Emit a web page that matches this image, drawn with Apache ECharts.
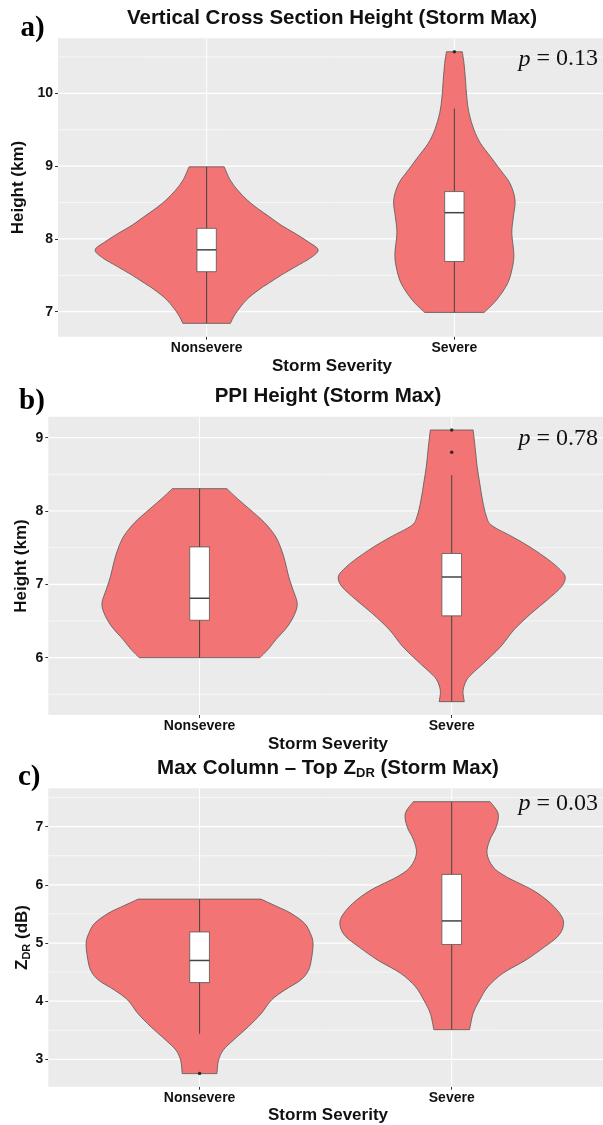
<!DOCTYPE html>
<html>
<head>
<meta charset="utf-8">
<title>Storm Max violin plots</title>
<script src="https://cdn.jsdelivr.net/npm/echarts@6/dist/echarts.min.js"></script>
<style>
  html, body { margin: 0; padding: 0; background: #fff; }
  #chart { width: 603px; height: 1125px; }
</style>
</head>
<body>
<div id="chart"></div>
<script>
// categories on the x axis (placed at 1 and 2)
const categories = ['Nonsevere', 'Severe'];
const catPos = [1, 2];

// violin outlines, bottom to top: [value, half width in category units]
const vcsNonsevere = [[6.84, 0.096], [6.97, 0.116], [7.16, 0.16], [7.30, 0.21], [7.39, 0.25], [7.50, 0.30], [7.62, 0.36], [7.74, 0.42], [7.85, 0.45], [7.96, 0.41], [8.08, 0.355], [8.19, 0.30], [8.30, 0.255], [8.42, 0.205], [8.53, 0.165], [8.67, 0.125], [8.81, 0.095], [8.99, 0.071]];
const vcsSevere = [[6.99, 0.12], [7.16, 0.17], [7.39, 0.215], [7.62, 0.235], [7.80, 0.24], [8.08, 0.232], [8.30, 0.238], [8.53, 0.245], [8.76, 0.225], [8.95, 0.185], [9.13, 0.146], [9.31, 0.106], [9.50, 0.079], [9.73, 0.059], [9.95, 0.05], [10.18, 0.045], [10.41, 0.039], [10.57, 0.032]];
const ppiNonsevere = [[6.0, 0.239], [6.11, 0.271], [6.25, 0.304], [6.43, 0.35], [6.61, 0.379], [6.75, 0.387], [6.93, 0.37], [7.11, 0.353], [7.30, 0.34], [7.48, 0.324], [7.66, 0.30], [7.84, 0.258], [8.02, 0.2], [8.16, 0.153], [8.305, 0.108]];
const ppiSevere = [[5.40, 0.05], [5.55, 0.045], [5.70, 0.06], [5.81, 0.09], [5.92, 0.125], [6.15, 0.194], [6.38, 0.247], [6.60, 0.314], [6.79, 0.38], [6.97, 0.436], [7.10, 0.45], [7.20, 0.43], [7.33, 0.386], [7.51, 0.31], [7.65, 0.24], [7.80, 0.16], [7.92, 0.138], [8.15, 0.122], [8.38, 0.111], [8.60, 0.101], [8.83, 0.094], [9.105, 0.085]];
const zdrNonsevere = [[2.755, 0.069], [2.98, 0.075], [3.16, 0.094], [3.33, 0.134], [3.56, 0.193], [3.79, 0.245], [4.02, 0.285], [4.19, 0.337], [4.36, 0.40], [4.53, 0.432], [4.76, 0.445], [5.0, 0.45], [5.16, 0.44], [5.34, 0.416], [5.51, 0.363], [5.62, 0.311], [5.755, 0.243]];
const zdrSevere = [[3.51, 0.071], [3.79, 0.085], [4.02, 0.111], [4.25, 0.144], [4.48, 0.203], [4.71, 0.295], [4.93, 0.367], [5.11, 0.42], [5.28, 0.442], [5.45, 0.437], [5.68, 0.393], [5.91, 0.321], [6.14, 0.216], [6.31, 0.164], [6.54, 0.14], [6.77, 0.151], [7.0, 0.177], [7.23, 0.184], [7.43, 0.152]];

// boxes: [lower whisker, q1, median, q3, upper whisker]
const vcsBoxes = [[6.84, 7.55, 7.85, 8.145, 8.99], [6.99, 7.69, 8.36, 8.65, 9.79]];
const ppiBoxes = [[6.0, 6.51, 6.81, 7.51, 8.305], [5.40, 6.57, 7.10, 7.42, 8.49]];
const zdrBoxes = [[3.44, 4.32, 4.70, 5.19, 5.755], [3.51, 4.975, 5.38, 6.18, 7.43]];

// outliers: [category position, value]
const vcsOutliers = [[2, 10.57]];
const ppiOutliers = [[2, 8.80], [2, 9.105]];
const zdrOutliers = [[1, 2.755]];

// y ticks and minor grid lines
const vcsTicks = [7, 8, 9, 10];
const vcsMinor = [7.5, 8.5, 9.5, 10.5];
const ppiTicks = [6, 7, 8, 9];
const ppiMinor = [5.5, 6.5, 7.5, 8.5];
const zdrTicks = [3, 4, 5, 6, 7];
const zdrMinor = [3.5, 4.5, 5.5, 6.5, 7.5];

const pValues = ['0.13', '0.78', '0.03'];

const SANS = '"Liberation Sans", Arial, sans-serif';
const SERIF = '"Liberation Serif", "Times New Roman", serif';
const violinFill = '#F27474';
const boxHalf = 0.039;

const panels = [
  { grid: { left: 58, top: 38.3, width: 548.4, height: 298.4 }, yMin: 6.657, yMax: 10.755,
    profiles: [vcsNonsevere, vcsSevere], boxes: vcsBoxes, outliers: vcsOutliers, ticks: vcsTicks, minor: vcsMinor },
  { grid: { left: 48.3, top: 416.7, width: 559.2, height: 298.3 }, yMin: 5.218, yMax: 9.286,
    profiles: [ppiNonsevere, ppiSevere], boxes: ppiBoxes, outliers: ppiOutliers, ticks: ppiTicks, minor: ppiMinor },
  { grid: { left: 48.3, top: 788.3, width: 559.2, height: 298.4 }, yMin: 2.53, yMax: 7.66,
    profiles: [zdrNonsevere, zdrSevere], boxes: zdrBoxes, outliers: zdrOutliers, ticks: zdrTicks, minor: zdrMinor }
];

function pt(p) { return p[0] + ',' + p[1]; }

// catmull-rom through the points, as cubic bezier segments
function curve(pts) {
  let s = '';
  for (let k = 0; k < pts.length - 1; k++) {
    const p0 = pts[Math.max(k - 1, 0)], p1 = pts[k], p2 = pts[k + 1], p3 = pts[Math.min(k + 2, pts.length - 1)];
    const c1 = [p1[0] + (p2[0] - p0[0]) / 6, p1[1] + (p2[1] - p0[1]) / 6];
    const c2 = [p2[0] - (p3[0] - p1[0]) / 6, p2[1] - (p3[1] - p1[1]) / 6];
    s += 'C' + pt(c1) + ' ' + pt(c2) + ' ' + pt(p2);
  }
  return s;
}

function violinItem(profiles, boxes) {
  return function (params, api) {
    const i = params.dataIndex;
    const cx = api.value(0);
    const prof = profiles[i];
    const box = boxes[i];
    const right = prof.map(p => api.coord([cx + p[1], p[0]]));
    const left = prof.slice().reverse().map(p => api.coord([cx - p[1], p[0]]));
    const d = 'M' + pt(right[0]) + curve(right) + 'L' + pt(left[0]) + curve(left) + 'Z';
    const lo = api.coord([cx, box[0]]), q1 = api.coord([cx, box[1]]), med = api.coord([cx, box[2]]);
    const q3 = api.coord([cx, box[3]]), hi = api.coord([cx, box[4]]);
    const bl = api.coord([cx - boxHalf, box[2]])[0], br = api.coord([cx + boxHalf, box[2]])[0];
    return {
      type: 'group',
      children: [
        { type: 'path', shape: { pathData: d }, style: { fill: violinFill, stroke: '#555', lineWidth: 0.8 } },
        { type: 'line', shape: { x1: lo[0], y1: lo[1], x2: hi[0], y2: hi[1] }, style: { stroke: '#444', lineWidth: 1 } },
        { type: 'rect', shape: { x: bl, y: q3[1], width: br - bl, height: q1[1] - q3[1] }, style: { fill: '#fff', stroke: '#555', lineWidth: 0.8 } },
        { type: 'line', shape: { x1: bl, y1: med[1], x2: br, y2: med[1] }, style: { stroke: '#444', lineWidth: 1.5 } }
      ]
    };
  };
}

function hLine(width) {
  return function (params, api) {
    const cs = params.coordSys;
    const y = api.coord([1, api.value(1)])[1];
    return { type: 'line', shape: { x1: cs.x, y1: y, x2: cs.x + cs.width, y2: y }, style: { stroke: '#fff', lineWidth: width } };
  };
}

function vLine(params, api) {
  const cs = params.coordSys;
  const x = api.coord([api.value(0), api.value(1)])[0];
  return { type: 'line', shape: { x1: x, y1: cs.y, x2: x, y2: cs.y + cs.height }, style: { stroke: '#fff', lineWidth: 1 } };
}

const grids = [], xAxes = [], yAxes = [], series = [];
panels.forEach((p, k) => {
  grids.push(Object.assign({ show: true, backgroundColor: '#EBEBEB', borderWidth: 0 }, p.grid));
  xAxes.push({
    gridIndex: k, type: 'value', min: 0.4, max: 2.6,
    axisLine: { show: false },
    axisTick: { show: true, customValues: catPos, length: 3, lineStyle: { color: '#333' } },
    axisLabel: { customValues: catPos, formatter: v => categories[Math.round(v) - 1], margin: 4,
      fontFamily: SANS, fontSize: 14, fontWeight: 'bold', color: '#111' },
    splitLine: { show: false }
  });
  yAxes.push({
    gridIndex: k, type: 'value', min: p.yMin, max: p.yMax,
    axisLine: { show: false },
    axisTick: { show: true, customValues: p.ticks, length: 3, lineStyle: { color: '#333' } },
    axisLabel: { customValues: p.ticks, margin: 5, fontFamily: SANS, fontSize: 14, fontWeight: 'bold', color: '#111' },
    splitLine: { show: false }
  });
  const mid = (p.yMin + p.yMax) / 2;
  series.push(
    { type: 'custom', xAxisIndex: k, yAxisIndex: k, silent: true, z: 1, renderItem: hLine(0.6), data: p.minor.map(v => [1, v]) },
    { type: 'custom', xAxisIndex: k, yAxisIndex: k, silent: true, z: 1, renderItem: hLine(1.2), data: p.ticks.map(v => [1, v]) },
    { type: 'custom', xAxisIndex: k, yAxisIndex: k, silent: true, z: 1, renderItem: vLine, data: catPos.map(c => [c, mid]) },
    { type: 'custom', xAxisIndex: k, yAxisIndex: k, silent: true, z: 2, renderItem: violinItem(p.profiles, p.boxes),
      data: catPos.map((c, i) => [c, p.boxes[i][2]]) },
    { type: 'scatter', xAxisIndex: k, yAxisIndex: k, silent: true, z: 3, symbolSize: 3.5,
      itemStyle: { color: '#111' }, data: p.outliers }
  );
});

function txt(x, y, text, size, opts) {
  const style = Object.assign({
    text: text, x: 0, y: 0, fontSize: size, fontFamily: SANS, fontWeight: 'bold', fill: '#111',
    align: 'center', verticalAlign: 'middle', textAlign: 'center', textVerticalAlign: 'middle'
  }, opts || {});
  return { type: 'text', x: x, y: y, z: 100, rotation: style.rot || 0, silent: true, style: style };
}

const sub = { s: { fontSize: 13, fontWeight: 'bold', fontFamily: SANS, fill: '#111', verticalAlign: 'bottom', lineHeight: 14 } };
const subY = { s: { fontSize: 11, fontWeight: 'bold', fontFamily: SANS, fill: '#111', verticalAlign: 'bottom', lineHeight: 12 } };
const pRich = { i: { fontStyle: 'italic', fontSize: 24, fontFamily: SERIF, fill: '#111' } };
const serifRight = { fontFamily: SERIF, fontWeight: 'normal', align: 'right', textAlign: 'right', rich: pRich };
const panelLabel = { fontFamily: SERIF, fontWeight: 'bold', align: 'left', textAlign: 'left', fill: '#000' };

const graphic = [
  txt(332, 18.3, 'Vertical Cross Section Height (Storm Max)', 20.5),
  txt(328, 396.7, 'PPI Height (Storm Max)', 20.5),
  txt(328, 768.3, 'Max Column – Top Z{s|DR} (Storm Max)', 20.5, { rich: sub, lineHeight: 24 }),
  txt(20.5, 28.5, 'a)', 29, panelLabel),
  txt(19, 401.5, 'b)', 29, panelLabel),
  txt(18, 778, 'c)', 29, panelLabel),
  txt(598, 59.2, '{i|p} = ' + pValues[0], 24, serifRight),
  txt(598, 438.6, '{i|p} = ' + pValues[1], 24, serifRight),
  txt(598, 803.6, '{i|p} = ' + pValues[2], 24, serifRight),
  txt(332, 366, 'Storm Severity', 17),
  txt(328, 744.3, 'Storm Severity', 17),
  txt(328, 1115.7, 'Storm Severity', 17),
  txt(18, 187.5, 'Height (km)', 17, { rot: Math.PI / 2 }),
  txt(21, 566, 'Height (km)', 17, { rot: Math.PI / 2 }),
  txt(22, 937.5, 'Z{s|DR} (dB)', 17, { rot: Math.PI / 2, rich: subY, lineHeight: 20 })
];

const chart = echarts.init(document.getElementById('chart'), null, { renderer: 'canvas' });
chart.setOption({
  animation: false,
  backgroundColor: '#fff',
  grid: grids,
  xAxis: xAxes,
  yAxis: yAxes,
  series: series,
  graphic: graphic
});
</script>
</body>
</html>
